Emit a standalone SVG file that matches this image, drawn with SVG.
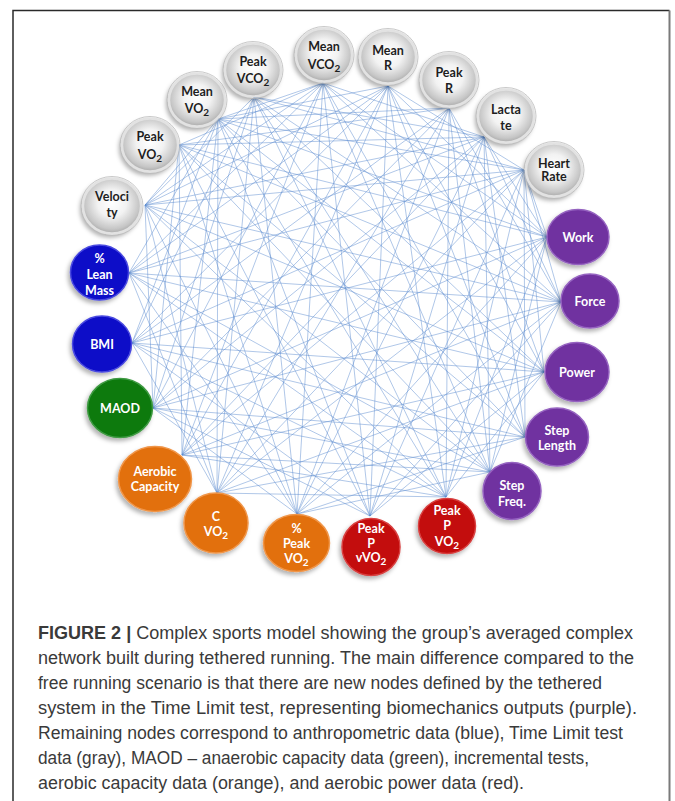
<svg xmlns="http://www.w3.org/2000/svg" width="675" height="801" viewBox="0 0 675 801">
<defs>
<radialGradient id="gg" cx="0.5" cy="0.45" r="0.55">
<stop offset="0" stop-color="#ffffff"/>
<stop offset="0.45" stop-color="#f2f2f2"/>
<stop offset="0.85" stop-color="#c6c6c6"/>
<stop offset="1" stop-color="#a9a9a9"/>
</radialGradient>
<filter id="sh" x="-30%" y="-30%" width="160%" height="160%">
<feDropShadow dx="-2" dy="3" stdDeviation="2.2" flood-color="#000" flood-opacity="0.3"/>
</filter>
</defs>
<style>
.e{fill:none;stroke:#5d8ccf;stroke-width:0.75;stroke-opacity:0.65}
.gn{fill:url(#gg);stroke:#e2e2e2;stroke-width:2.5;filter:url(#sh)}
.gr{fill:none;stroke:#bcbcbc;stroke-width:0.8}
.gt{font-family:Lato,"Open Sans",sans-serif;font-weight:700;font-size:12.5px;fill:#1e1e1e;text-anchor:middle}
.wt{font-family:Lato,"Open Sans",sans-serif;font-weight:700;font-size:12.5px;fill:#ffffff;text-anchor:middle}
.pu{fill:#7030a0;stroke:#9563c0;stroke-width:1.5;filter:url(#sh)}
.rd{fill:#c30808;stroke:#d84040;stroke-width:1.5;filter:url(#sh)}
.or{fill:#e2700e;stroke:#f0964a;stroke-width:1.5;filter:url(#sh)}
.gre{fill:#0b7a0f;stroke:#3f9a42;stroke-width:1.5;filter:url(#sh)}
.bl{fill:#0c0cc8;stroke:#4a4ae0;stroke-width:1.5;filter:url(#sh)}
.cap{font-family:"Liberation Sans",Arial,sans-serif;font-size:17.5px;fill:#3a3a3a}
</style>
<rect x="0" y="0" width="675" height="801" fill="#ffffff"/>
<path d="M13 801V10.5H669.5" fill="none" stroke="#2a2a2a" stroke-width="1.5"/>
<path d="M669.5 10.5V801" fill="none" stroke="#7a7a7a" stroke-width="2"/>
<g id="connectors">
<path class="e" d="M145 205L218 119M145 205L254 97M145 205L323 83M145 205L388 86M145 205L484 137M145 205L524 170M145 205L561 302M145 205L544 372M145 205L490 472M145 205L446 497M145 205L297 514M145 205L217 493M145 205L153 408"/>
<path class="e" d="M179 145L323 83M179 145L449 108M179 145L484 137M179 145L547 237M179 145L561 302M179 145L525 437M179 145L490 472M179 145L370 516M179 145L297 514M179 145L182 455M179 145L153 408"/>
<path class="e" d="M218 119L323 83M218 119L388 86M218 119L449 108M218 119L524 170M218 119L547 237M218 119L544 372M218 119L525 437M218 119L446 497M218 119L370 516M218 119L217 493M218 119L182 455M218 119L132 343M218 119L129 273"/>
<path class="e" d="M254 97L484 137M254 97L524 170M254 97L561 302M254 97L544 372M254 97L490 472M254 97L446 497M254 97L297 514M254 97L217 493M254 97L153 408M254 97L132 343"/>
<path class="e" d="M323 83L484 137M323 83L547 237M323 83L561 302M323 83L525 437M323 83L490 472M323 83L370 516M323 83L297 514M323 83L182 455M323 83L153 408M323 83L129 273"/>
<path class="e" d="M388 86L524 170M388 86L547 237M388 86L544 372M388 86L525 437M388 86L446 497M388 86L370 516M388 86L217 493M388 86L182 455M388 86L132 343M388 86L129 273"/>
<path class="e" d="M449 108L561 302M449 108L544 372M449 108L490 472M449 108L446 497M449 108L297 514M449 108L217 493M449 108L153 408M449 108L132 343"/>
<path class="e" d="M484 137L547 237M484 137L561 302M484 137L525 437M484 137L490 472M484 137L370 516M484 137L297 514M484 137L182 455M484 137L153 408M484 137L129 273"/>
<path class="e" d="M524 170L547 237M524 170L561 302M524 170L544 372M524 170L525 437M524 170L446 497M524 170L370 516M524 170L217 493M524 170L182 455M524 170L132 343M524 170L129 273"/>
<path class="e" d="M547 237L490 472M547 237L446 497M547 237L297 514M547 237L217 493M547 237L153 408M547 237L132 343"/>
<path class="e" d="M561 302L490 472M561 302L370 516M561 302L297 514M561 302L182 455M561 302L153 408M561 302L129 273"/>
<path class="e" d="M544 372L446 497M544 372L370 516M544 372L217 493M544 372L182 455M544 372L132 343M544 372L129 273"/>
<path class="e" d="M525 437L297 514M525 437L217 493M525 437L153 408M525 437L132 343"/>
<path class="e" d="M490 472L297 514M490 472L182 455M490 472L153 408M490 472L129 273"/>
<path class="e" d="M446 497L217 493M446 497L182 455M446 497L132 343M446 497L129 273"/>
<path class="e" d="M370 516L153 408M370 516L132 343"/>
<path class="e" d="M297 514L153 408M297 514L129 273"/>
<path class="e" d="M217 493L132 343M217 493L129 273"/>
</g>
<g id="velocity"><ellipse class="gn" cx="112" cy="206" rx="29" ry="27.5"/><ellipse class="gr" cx="112" cy="206" rx="31" ry="29.5"/><text class="gt" x="112" y="201">Veloci</text><text class="gt" x="112" y="217">ty</text></g>
<g id="peak-vo2"><ellipse class="gn" cx="150" cy="145" rx="28" ry="26.5"/><ellipse class="gr" cx="150" cy="145" rx="30" ry="28.5"/><text class="gt" x="150" y="141">Peak</text><text class="gt" x="150" y="159">VO<tspan font-size="10" dy="3">2</tspan></text></g>
<g id="mean-vo2"><ellipse class="gn" cx="197" cy="100" rx="28" ry="26.5"/><ellipse class="gr" cx="197" cy="100" rx="30" ry="28.5"/><text class="gt" x="197" y="96">Mean</text><text class="gt" x="197" y="113">VO<tspan font-size="10" dy="3">2</tspan></text></g>
<g id="peak-vco2"><ellipse class="gn" cx="253" cy="70" rx="28" ry="26.5"/><ellipse class="gr" cx="253" cy="70" rx="30" ry="28.5"/><text class="gt" x="253" y="66">Peak</text><text class="gt" x="253" y="83">VCO<tspan font-size="10" dy="3">2</tspan></text></g>
<g id="mean-vco2"><ellipse class="gn" cx="324" cy="55" rx="28" ry="26.5"/><ellipse class="gr" cx="324" cy="55" rx="30" ry="28.5"/><text class="gt" x="324" y="51">Mean</text><text class="gt" x="324" y="69">VCO<tspan font-size="10" dy="3">2</tspan></text></g>
<g id="mean-r"><ellipse class="gn" cx="388" cy="57" rx="28" ry="26.5"/><ellipse class="gr" cx="388" cy="57" rx="30" ry="28.5"/><text class="gt" x="388" y="54.5">Mean</text><text class="gt" x="388" y="69.5">R</text></g>
<g id="peak-r"><ellipse class="gn" cx="449" cy="80" rx="28" ry="26.5"/><ellipse class="gr" cx="449" cy="80" rx="30" ry="28.5"/><text class="gt" x="449" y="77">Peak</text><text class="gt" x="449" y="93">R</text></g>
<g id="lactate"><ellipse class="gn" cx="506" cy="116" rx="28" ry="26.5"/><ellipse class="gr" cx="506" cy="116" rx="30" ry="28.5"/><text class="gt" x="506" y="114">Lacta</text><text class="gt" x="506" y="129.5">te</text></g>
<g id="heart-rate"><ellipse class="gn" cx="554" cy="170" rx="28" ry="26.5"/><ellipse class="gr" cx="554" cy="170" rx="30" ry="28.5"/><text class="gt" x="554" y="167.5" font-size="11.5">Heart</text><text class="gt" x="554" y="181" font-size="11.5">Rate</text></g>
<g id="work"><ellipse class="pu" cx="578" cy="237" rx="31" ry="27.5"/><text class="wt" x="578" y="241.5" font-size="14">Work</text></g>
<g id="force"><ellipse class="pu" cx="590" cy="301" rx="29" ry="27"/><text class="wt" x="590" y="306">Force</text></g>
<g id="power"><ellipse class="pu" cx="577" cy="372" rx="32" ry="29.5"/><text class="wt" x="577" y="376.5">Power</text></g>
<g id="step-length"><ellipse class="pu" cx="557" cy="437" rx="31.5" ry="29"/><text class="wt" x="557" y="434.5">Step</text><text class="wt" x="557" y="449.5">Length</text></g>
<g id="step-freq"><ellipse class="pu" cx="512" cy="491" rx="29" ry="28.5"/><text class="wt" x="512" y="489.5">Step</text><text class="wt" x="512" y="506">Freq.</text></g>
<g id="peak-p-vo2"><ellipse class="rd" cx="447" cy="526" rx="28.5" ry="27.5"/><text class="wt" x="447" y="514.5">Peak</text><text class="wt" x="447" y="529.5">P</text><text class="wt" x="447" y="546">VO<tspan font-size="10" dy="3">2</tspan></text></g>
<g id="peak-p-vvo2"><ellipse class="rd" cx="371" cy="547" rx="29" ry="28.5"/><text class="wt" x="371" y="533">Peak</text><text class="wt" x="371" y="548">P</text><text class="wt" x="371" y="562">vVO<tspan font-size="10" dy="3">2</tspan></text></g>
<g id="pct-peak-vo2"><ellipse class="or" cx="296.5" cy="543" rx="33" ry="28.5"/><text class="wt" x="296.5" y="533">%</text><text class="wt" x="296.5" y="548">Peak</text><text class="wt" x="296.5" y="563">VO<tspan font-size="10" dy="3">2</tspan></text></g>
<g id="c-vo2"><ellipse class="or" cx="216" cy="523" rx="32" ry="30"/><text class="wt" x="216" y="521">C</text><text class="wt" x="216" y="536">VO<tspan font-size="10" dy="3">2</tspan></text></g>
<g id="aerobic-capacity"><ellipse class="or" cx="155" cy="479" rx="36.5" ry="32.5"/><text class="wt" x="155" y="476" font-size="11.5">Aerobic</text><text class="wt" x="155" y="490.5" font-size="11.5">Capacity</text></g>
<g id="maod"><ellipse class="gre" cx="120" cy="408" rx="32.5" ry="29.5"/><text class="wt" x="120" y="412.5" font-size="12">MAOD</text></g>
<g id="bmi"><ellipse class="bl" cx="102" cy="344" rx="29.5" ry="28"/><text class="wt" x="102" y="349" font-size="14.5">BMI</text></g>
<g id="pct-lean-mass"><ellipse class="bl" cx="99.5" cy="272.5" rx="29" ry="27.5"/><text class="wt" x="99.5" y="262.5" font-size="13">%</text><text class="wt" x="99.5" y="278.5" font-size="13">Lean</text><text class="wt" x="99.5" y="294.5" font-size="13">Mass</text></g>
<g id="caption">
<text class="cap" x="38" y="639" textLength="595" lengthAdjust="spacingAndGlyphs"><tspan font-weight="700">FIGURE 2 |</tspan> Complex sports model showing the group’s averaged complex</text>
<text class="cap" x="38" y="664" textLength="596" lengthAdjust="spacingAndGlyphs">network built during tethered running. The main difference compared to the</text>
<text class="cap" x="38" y="689" textLength="564" lengthAdjust="spacingAndGlyphs">free running scenario is that there are new nodes defined by the tethered</text>
<text class="cap" x="38" y="714" textLength="599" lengthAdjust="spacingAndGlyphs">system in the Time Limit test, representing biomechanics outputs (purple).</text>
<text class="cap" x="38" y="739" textLength="585" lengthAdjust="spacingAndGlyphs">Remaining nodes correspond to anthropometric data (blue), Time Limit test</text>
<text class="cap" x="38" y="764" textLength="551" lengthAdjust="spacingAndGlyphs">data (gray), MAOD – anaerobic capacity data (green), incremental tests,</text>
<text class="cap" x="38" y="789" textLength="486" lengthAdjust="spacingAndGlyphs">aerobic capacity data (orange), and aerobic power data (red).</text>
</g>
</svg>
